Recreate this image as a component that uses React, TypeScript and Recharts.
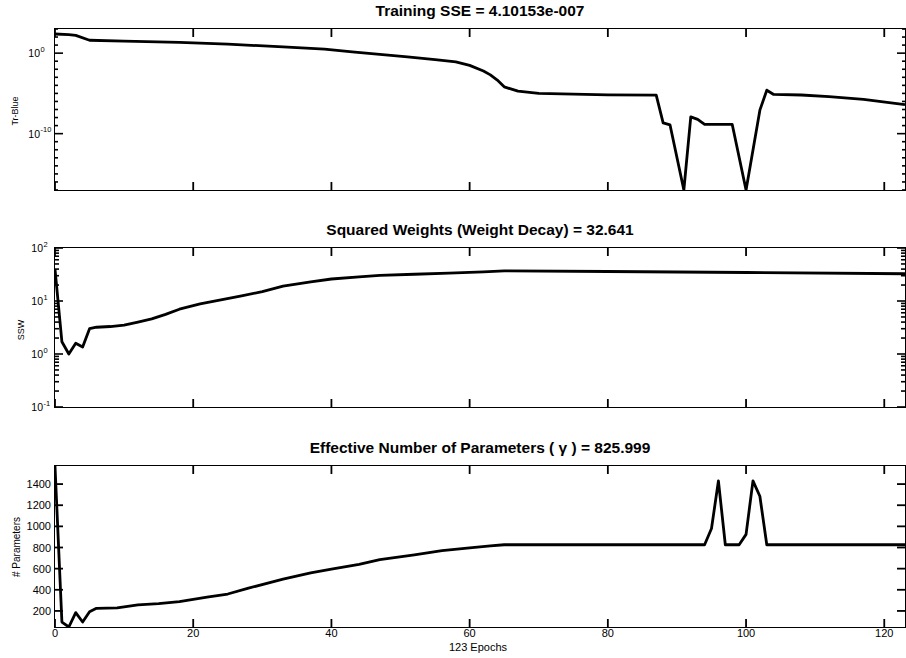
import React from 'react';
import { LineChart, Line, XAxis, YAxis } from 'recharts';

// ---------- data ----------
const epochTicks = [0, 20, 40, 60, 80, 100, 120];

const sseEpochs = [0, 2, 3, 5, 10, 18, 25, 33, 39, 43, 47, 51, 55, 58, 60, 62, 63, 64, 65, 67, 70, 75, 80, 87, 88, 89, 91, 92, 93, 94, 98, 100, 102, 103, 104, 108, 112, 117, 123];
const sseValues = [2.4e2, 2.0e2, 1.6e2, 4e1, 3.2e1, 2.2e1, 1.3e1, 6e0, 3.2e0, 1.4e0, 7e-1, 3.5e-1, 1.6e-1, 8e-2, 3e-2, 6e-3, 2e-3, 4.5e-4, 6.5e-5, 1.9e-5, 1e-5, 8e-6, 6.5e-6, 6e-6, 2.2e-9, 1.2e-9, 1e-17, 1.2e-8, 6e-9, 1.4e-9, 1.4e-9, 1e-17, 8.3e-8, 2.5e-5, 7.4e-6, 6.3e-6, 4e-6, 1.8e-6, 4.1e-7];
const sseTicks = [1e-17, 1e-16, 1e-15, 1e-14, 1e-13, 1e-12, 1e-11, 1e-10, 1e-9, 1e-8, 1e-7, 1e-6, 1e-5, 1e-4, 1e-3, 1e-2, 1e-1, 1e0, 1e1, 1e2, 1e3];
const sseMajor = [1e-10, 1e0];

const sswEpochs = [0, 1, 2, 3, 4, 5, 6, 8, 10, 12, 14, 16, 18, 21, 24, 27, 30, 33, 37, 40, 44, 47, 52, 57, 62, 65, 80, 100, 123];
const sswValues = [40, 1.7, 1.0, 1.6, 1.35, 3.0, 3.2, 3.3, 3.5, 4.0, 4.6, 5.6, 7.0, 8.8, 10.5, 12.5, 15, 19, 23, 26, 28.5, 30.5, 32, 33.5, 35.5, 37, 36, 34.5, 32.641];
const sswTicks = [0.1, 0.2, 0.3, 0.4, 0.5, 0.6, 0.7, 0.8, 0.9, 1, 2, 3, 4, 5, 6, 7, 8, 9, 10, 20, 30, 40, 50, 60, 70, 80, 90, 100];
const sswMajor = [0.1, 1, 10, 100];

const gammaEpochs = [0, 1, 2, 3, 4, 5, 6, 9, 12, 15, 18, 22, 25, 28, 33, 37, 40, 44, 47, 52, 56, 60, 63, 65, 94, 95, 96, 97, 99, 100, 101, 102, 103, 123];
const gammaValues = [1571, 95, 48, 184, 95, 193, 225, 228, 257, 270, 289, 330, 360, 416, 500, 560, 595, 640, 686, 730, 770, 797, 815, 826, 826, 980, 1430, 826, 826, 924, 1430, 1285, 826, 825.999];
const gammaTicks = [200, 400, 600, 800, 1000, 1200, 1400];

const titles = [
  'Training SSE = 4.10153e-007',
  'Squared Weights (Weight Decay) = 32.641',
  'Effective Number of Parameters ( \u03B3 ) = 825.999',
];
const yLabels = ['Tr-Blue', 'SSW', '# Parameters'];
const xLabel = '123 Epochs';

// ---------- layout ----------
const W = 906;
const PLOT_LEFT = 55;
const PLOT_RIGHT = 905;
const PLOT_W = PLOT_RIGHT - PLOT_LEFT;
const FONT = '"Liberation Sans", Arial, Helvetica, sans-serif';
const TICK_LEN = 8;

const mk = (xs: number[], ys: number[]) => xs.map((e, i) => ({ epoch: e, v: ys[i] }));
const sseData = mk(sseEpochs, sseValues);
const sswData = mk(sswEpochs, sswValues);
const gammaData = mk(gammaEpochs, gammaValues);

const makeXTick = (plotH: number, showLabel: boolean) => (props: any) => {
  const { x, y, payload } = props;
  return (
    <g>
      <line x1={x} y1={y} x2={x} y2={y - TICK_LEN} stroke="#000" strokeWidth={1.8} />
      <line x1={x} y1={y - plotH} x2={x} y2={y - plotH + TICK_LEN} stroke="#000" strokeWidth={1.8} />
      {showLabel && (
        <text x={x} y={y + 10} textAnchor="middle" fontSize={11} fontFamily={FONT} fill="#000">
          {payload.value}
        </text>
      )}
    </g>
  );
};

const isMajor = (v: number, majors: number[]) => majors.some((m) => Math.abs(m - v) <= Math.abs(m) * 1e-9);

const makeLogYTick = (majors: number[], baseGap: number, minorLen: number) => (props: any) => {
  const { x, y, payload } = props;
  const v = payload.value as number;
  const major = isMajor(v, majors);
  const len = major ? TICK_LEN : minorLen;
  const exp = Math.round(Math.log10(v));
  return (
    <g>
      <line x1={x} y1={y} x2={x + len} y2={y} stroke="#000" strokeWidth={1.6} />
      <line x1={x + PLOT_W} y1={y} x2={x + PLOT_W - len} y2={y} stroke="#000" strokeWidth={1.6} />
      {major && (
        <g>
          <text x={x - baseGap} y={y + 4} textAnchor="end" fontSize={10.5} fontFamily={FONT} fill="#000">
            10
          </text>
          <text x={x - baseGap + 0.5} y={y - 1.5} textAnchor="start" fontSize={7.5} fontFamily={FONT} fill="#000">
            {exp}
          </text>
        </g>
      )}
    </g>
  );
};

const linYTick = (props: any) => {
  const { x, y, payload } = props;
  return (
    <g>
      <line x1={x} y1={y} x2={x + TICK_LEN} y2={y} stroke="#000" strokeWidth={1.8} />
      <line x1={x + PLOT_W} y1={y} x2={x + PLOT_W - TICK_LEN} y2={y} stroke="#000" strokeWidth={1.8} />
      <text x={x - 4} y={y + 4} textAnchor="end" fontSize={11} fontFamily={FONT} fill="#000">
        {payload.value}
      </text>
    </g>
  );
};

type PanelProps = {
  top: number;
  height: number;
  plotTop: number;
  plotBottom: number;
  data: { epoch: number; v: number }[];
  yDomain: [number, number];
  yTicks: number[];
  yTick: any;
  log: boolean;
  showX: boolean;
};

function Panel(p: PanelProps) {
  const marginTop = p.plotTop - p.top;
  const marginBottom = p.top + p.height - p.plotBottom;
  const plotH = p.plotBottom - p.plotTop;
  return (
    <div style={{ position: 'absolute', left: 0, top: p.top, width: W, height: p.height }}>
      <div
        style={{
          position: 'absolute',
          left: PLOT_LEFT - 0.8,
          top: marginTop - 0.8,
          width: PLOT_W + 1.6,
          height: plotH + 1.6,
          border: '1.6px solid #000',
          boxSizing: 'border-box',
          pointerEvents: 'none',
        }}
      />
      <LineChart
        width={W}
        height={p.height}
        data={p.data}
        margin={{ top: marginTop, right: W - PLOT_RIGHT, bottom: 0, left: 0 }}
      >
        <XAxis
          dataKey="epoch"
          type="number"
          domain={[0, 123]}
          ticks={epochTicks}
          interval={0}
          allowDataOverflow
          height={marginBottom}
          tickSize={0}
          tickMargin={0}
          axisLine={false}
          tickLine={false}
          tick={makeXTick(plotH, p.showX)}
        />
        <YAxis
          type="number"
          scale={p.log ? 'log' : 'linear'}
          domain={p.yDomain}
          ticks={p.yTicks}
          interval={0}
          allowDataOverflow
          width={PLOT_LEFT}
          tickSize={0}
          tickMargin={0}
          axisLine={false}
          tickLine={false}
          tick={p.yTick}
        />
        <Line
          type="linear"
          dataKey="v"
          stroke="#000"
          strokeWidth={2.8}
          dot={false}
          isAnimationActive={false}
          strokeLinejoin="round"
        />
      </LineChart>
    </div>
  );
}

const titleStyle = (baseline: number): React.CSSProperties => ({
  position: 'absolute',
  left: PLOT_LEFT,
  width: PLOT_W,
  top: baseline - 14.4,
  height: 18,
  lineHeight: '18px',
  textAlign: 'center',
  fontFamily: FONT,
  fontWeight: 'bold',
  fontSize: 15.5,
  color: '#000',
  whiteSpace: 'nowrap',
});

const yLabelStyle = (cx: number, cy: number, size: number): React.CSSProperties => ({
  position: 'absolute',
  left: cx,
  top: cy,
  transform: 'translate(-50%, -50%) rotate(-90deg)',
  fontFamily: FONT,
  fontSize: size,
  color: '#000',
  whiteSpace: 'nowrap',
  lineHeight: '12px',
});

export default function App() {
  return (
    <div style={{ position: 'absolute', left: 0, top: 0, width: W, height: 658, background: '#fff', overflow: 'hidden' }}>
      <Panel
        top={0}
        height={215}
        plotTop={29}
        plotBottom={190}
        data={sseData}
        yDomain={[1e-17, 1e3]}
        yTicks={sseTicks}
        yTick={makeLogYTick(sseMajor, 15, 3)}
        log
        showX={false}
      />
      <Panel
        top={215}
        height={218}
        plotTop={248}
        plotBottom={407}
        data={sswData}
        yDomain={[0.1, 100]}
        yTicks={sswTicks}
        yTick={makeLogYTick(sswMajor, 12, 4)}
        log
        showX={false}
      />
      <Panel
        top={433}
        height={225}
        plotTop={466}
        plotBottom={627}
        data={gammaData}
        yDomain={[48, 1571]}
        yTicks={gammaTicks}
        yTick={linYTick}
        log={false}
        showX
      />
      <div style={titleStyle(16)}>{titles[0]}</div>
      <div style={titleStyle(235)}>{titles[1]}</div>
      <div style={titleStyle(453)}>{titles[2]}</div>
      <div style={yLabelStyle(15, 111, 9)}>{yLabels[0]}</div>
      <div style={yLabelStyle(21, 330, 9)}>{yLabels[1]}</div>
      <div style={yLabelStyle(17, 547, 10)}>{yLabels[2]}</div>
      <div
        style={{
          position: 'absolute',
          left: 378,
          width: 200,
          top: 640,
          lineHeight: '14px',
          textAlign: 'center',
          fontFamily: FONT,
          fontSize: 11,
          color: '#000',
        }}
      >
        {xLabel}
      </div>
    </div>
  );
}
